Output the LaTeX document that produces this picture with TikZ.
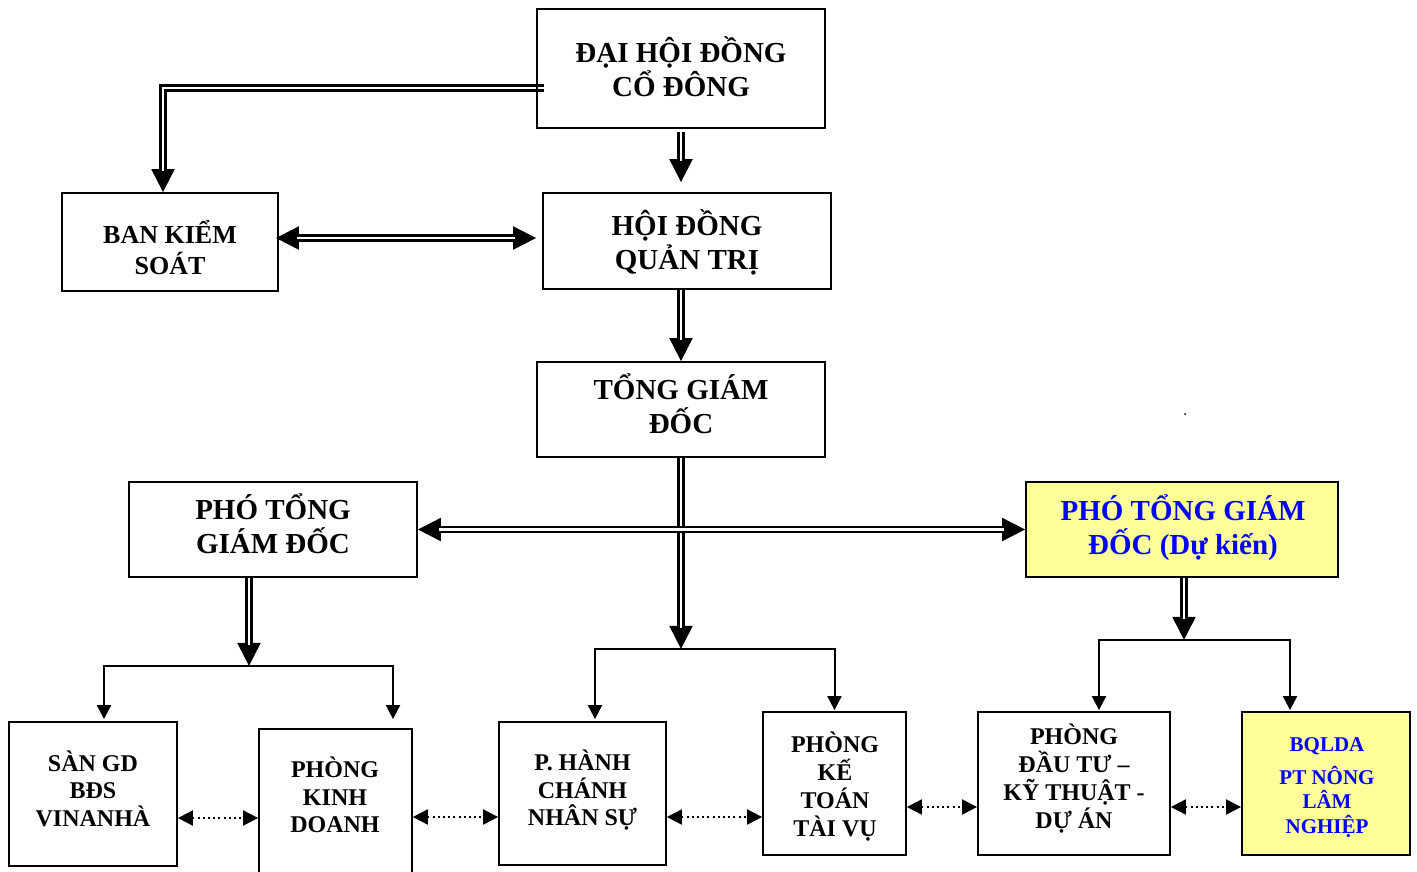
\documentclass[tikz,border=0pt]{standalone}
\usepackage{fontspec}
\setmainfont{Liberation Serif}
\usetikzlibrary{arrows.meta,calc,backgrounds}
\definecolor{yel}{RGB}{255,255,153}
\definecolor{blu}{RGB}{0,0,255}
\begin{document}
\begin{tikzpicture}[x=1pt,y=-1pt,
  box/.style={draw=black, line width=1.8pt, inner sep=0pt},
  ybox/.style={box, fill=yel},
  lblL/.style={inner sep=0pt, align=center, text depth=0pt, text height=53.2pt,
    font=\fontsize{29}{34}\selectfont\bfseries},
  lblM/.style={inner sep=0pt, align=center, text depth=0pt, text height=48.2pt,
    font=\fontsize{26}{31}\selectfont\bfseries},
  lblS/.style={inner sep=0pt, align=center, text depth=0pt, text height=70.9pt,
    font=\fontsize{24}{27.5}\selectfont\bfseries},
  lblF/.style={inner sep=0pt, align=center, text depth=0pt, text height=99.9pt,
    font=\fontsize{24}{28}\selectfont\bfseries},
  lblB/.style={inner sep=0pt, align=center, text depth=0pt, text height=96pt, text=blu,
    font=\fontsize{21}{24.5}\selectfont\bfseries},
  dblshaft/.style={double=white, double distance=2.6pt, line width=2.5pt},
  tipd/.style={line width=2pt, -{Triangle[length=23pt,width=23pt]}},
  tipdd/.style={line width=2pt, {Triangle[length=23pt,width=23pt]}-{Triangle[length=23pt,width=23pt]}},
  sarrow/.style={line width=2pt, -{Triangle[length=14pt,width=14pt]}},
  dotarrow/.style={line width=2pt, dash pattern=on 2pt off 3.2pt,
    {Triangle[length=15pt,width=15pt]}-{Triangle[length=15pt,width=15pt]}}
]
\useasboundingbox (0,0) rectangle (1417,871);

% boxes
\node[box, minimum width=288pt, minimum height=119pt] (dh) at (681,68.5) {};
\node[box, minimum width=216pt, minimum height=98pt] (bks) at (170,242) {};
\node[box, minimum width=288pt, minimum height=96pt] (hdqt) at (687,241) {};
\node[box, minimum width=288pt, minimum height=95pt] (tgd) at (681,409.5) {};
\node[box, minimum width=288pt, minimum height=95pt] (ptl) at (273,529.5) {};
\node[ybox, minimum width=312pt, minimum height=95pt] (ptr) at (1182,529.5) {};
\node[box, minimum width=168pt, minimum height=144pt] (san) at (93,794) {};
\node[box, minimum width=153pt, minimum height=156pt] (kd) at (335.5,807) {};
\node[box, minimum width=167pt, minimum height=143pt] (hc) at (582.5,793.5) {};
\node[box, minimum width=143pt, minimum height=143pt] (kt) at (834.5,783.5) {};
\node[box, minimum width=192pt, minimum height=143pt] (dt) at (1074,783.5) {};
\node[ybox, minimum width=168pt, minimum height=143pt] (bq) at (1326,783.5) {};

% labels
\node[lblL] (tdh) at (681,70) {ĐẠI HỘI ĐỒNG\\CỔ ĐÔNG};
\node[lblM] (tbks) at (170,250.5) {BAN KIỂM\\SOÁT};
\node[lblL] (thdqt) at (687,243) {HỘI ĐỒNG\\QUẢN TRỊ};
\node[lblL] (ttgd) at (681,407) {TỔNG GIÁM\\ĐỐC};
\node[lblL] (tptl) at (273,527) {PHÓ TỔNG\\GIÁM ĐỐC};
\node[lblL, text=blu] (tptr) at (1183,527.5) {PHÓ TỔNG GIÁM\\ĐỐC (Dự kiến)};
\node[lblS] (tsan) at (93,791) {SÀN GD\\BĐS\\VINANHÀ};
\node[lblS] (tkd) at (335,797.5) {PHÒNG\\KINH\\DOANH};
\node[lblS] (thc) at (582.5,790.5) {P. HÀNH\\CHÁNH\\NHÂN SỰ};
\node[lblF] (tkt) at (835,787) {PHÒNG\\KẾ\\TOÁN\\TÀI VỤ};
\node[lblF] (tdt) at (1074,778.5) {PHÒNG\\ĐẦU TƯ –\\KỸ THUẬT -\\DỰ ÁN};
\node[lblB] (tbq) at (1327,785) {BQLDA\\[8.5pt]PT NÔNG\\LÂM\\NGHIỆP};

\begin{scope}[on background layer]
% DHDCD -> BKS
\draw[tipd] ($(dh.west)+(8,19.5)$) -| ($(bks.north)+(-7,0)$);
\draw[dblshaft, shorten >=21pt] ($(dh.west)+(8,19.5)$) -| ($(bks.north)+(-7,0)$);
% DHDCD -> HDQT
\draw[tipd] ($(dh.south)+(0,3)$) -- ($(dh.south |- hdqt.north)+(0,-10)$);
\draw[dblshaft, shorten >=21pt] ($(dh.south)+(0,3)$) -- ($(dh.south |- hdqt.north)+(0,-10)$);
% BKS <-> HDQT
\draw[tipdd] ($(bks.east)+(-3,-4)$) -- ($(hdqt.west)+(-6,-3)$);
\draw[dblshaft, shorten <=21pt, shorten >=21pt] ($(bks.east)+(-3,-4)$) -- ($(hdqt.west)+(-6,-3)$);
% HDQT -> TGD
\draw[tipd] (tgd.north |- hdqt.south) -- (tgd.north);
\draw[dblshaft, shorten >=21pt] (tgd.north |- hdqt.south) -- (tgd.north);
% TGD -> branch
\coordinate (br2) at ($(tgd.south)+(0,191)$);
\draw[tipd] (tgd.south) -- (br2);
\draw[dblshaft, shorten >=21pt] (tgd.south) -- (br2);
% PTGD <-> PTGD
\draw[tipdd] (ptl.east) -- (ptr.west);
\draw[dblshaft, shorten <=21pt, shorten >=21pt] (ptl.east) -- (ptr.west);
% PTGD left -> branch
\coordinate (pls) at ($(ptl.south)+(-24,0)$);
\coordinate (br1) at ($(ptl.south)+(-24,88)$);
\draw[tipd] (pls) -- (br1);
\draw[dblshaft, shorten >=21pt] (pls) -- (br1);
% PTGD right -> branch
\coordinate (prs) at ($(ptr.south)+(2,0)$);
\coordinate (br3) at ($(ptr.south)+(2,62)$);
\draw[tipd] (prs) -- (br3);
\draw[dblshaft, shorten >=21pt] (prs) -- (br3);
\end{scope}

% branches
\draw[sarrow] (br1) -| ($(san.north)+(11,-2)$);
\draw[sarrow] (br1) -| ($(kd.north)+(57.5,-9)$);
\draw[sarrow] (br2) -| ($(hc.north)+(12.5,-2)$);
\draw[sarrow] (br2) -| ($(kt.north)+(0,-1)$);
\draw[sarrow] (br3) -| ($(dt.north)+(25,-1)$);
\draw[sarrow] (br3) -| ($(bq.north)+(-36,-1)$);

% dotted links
\draw[dotarrow] ($(san.east)+(0,24)$) coordinate (d1) -- (d1 -| kd.west);
\draw[dotarrow] ($(kd.east)+(0,10)$) coordinate (d2) -- (d2 -| hc.west);
\draw[dotarrow] ($(hc.east)+(0,23.5)$) coordinate (d3) -- (d3 -| kt.west);
\draw[dotarrow] ($(kt.east)+(0,23.5)$) coordinate (d4) -- (d4 -| dt.west);
\draw[dotarrow] ($(dt.east)+(0,23.5)$) coordinate (d5) -- (d5 -| bq.west);

% stray dot
\fill (1185,414) circle (1pt);
\end{tikzpicture}
\end{document}
